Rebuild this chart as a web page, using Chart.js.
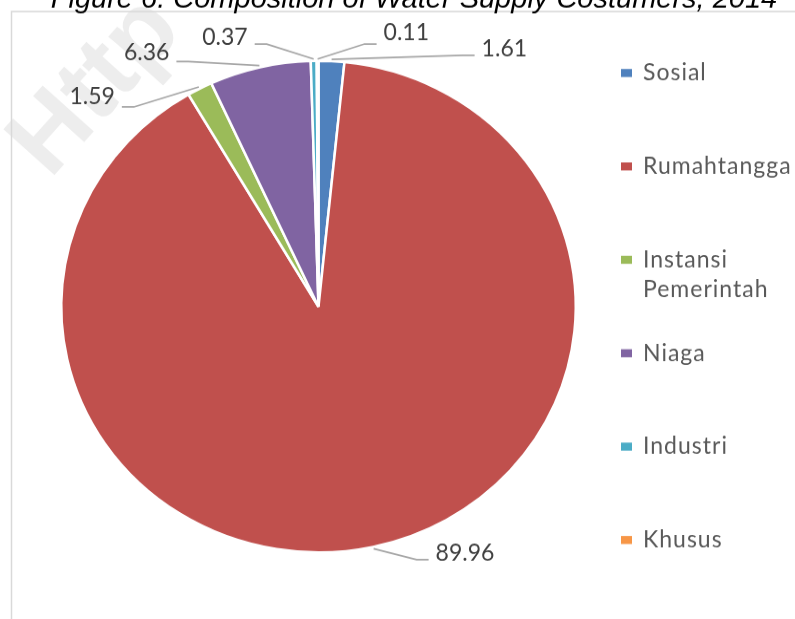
<!DOCTYPE html>
<html>
<head>
<meta charset="utf-8">
<title>Composition of Water Supply Costumers, 2014</title>
<script src="https://cdn.jsdelivr.net/npm/chart.js@4"></script>
<style>
    html, body { margin: 0; padding: 0; background: #ffffff; overflow: hidden; }
</style>
</head>
<body>
<canvas id="pieChart" width="795" height="648" style="display:block;width:795px;height:619px;"></canvas>
<script>
// Chart data
const categories = ['Sosial', 'Rumahtangga', 'Instansi Pemerintah', 'Niaga', 'Industri', 'Khusus'];
const shares = [1.61, 89.96, 1.59, 6.36, 0.37, 0.11];
const sliceColors = ['#4F81BD', '#C0504D', '#9BBB59', '#8064A2', '#4BACC6', '#F79646'];
const chartTitle = 'Figure 6. Composition of Water Supply Costumers, 2014';

// The original picture is squashed vertically, so the canvas is drawn taller and shrunk by CSS
const SQUASH = 619 / 648;

// Where each value label sits, relative to the edge of its slice (screen px)
const labelLayout = [
    { dx: 143, dy: -4, side: 'right', ty: -6 },
    { dx: 55, dy: 11, side: 'right', ty: -6 },
    { dx: -77, dy: 20, side: 'left', ty: -10 },
    { dx: -83, dy: -4, side: 'left', ty: -9 },
    { dx: -59, dy: -15, side: 'left', ty: -7 },
    { dx: 59, dy: -15, side: 'right', ty: -11 }
];

// Background, frame, watermark and title
const backdropPlugin = {
    id: 'backdrop',
    beforeDraw(chart) {
        const ctx = chart.ctx;
        ctx.save();
        ctx.fillStyle = '#ffffff';
        ctx.fillRect(0, 0, chart.width, chart.height);
        ctx.scale(1, 1 / SQUASH);

        // faint watermark
        ctx.save();
        ctx.translate(50, 180);
        ctx.rotate(-48 * Math.PI / 180);
        ctx.font = 'bold 100px "Liberation Sans", Arial, sans-serif';
        ctx.fillStyle = 'rgba(0, 0, 0, 0.07)';
        ctx.fillText('Http', 0, 0);
        ctx.restore();

        // chart frame
        ctx.strokeStyle = '#d9d9d9';
        ctx.lineWidth = 1.5;
        ctx.strokeRect(11.5, 11.5, 900, 700);

        // title, mostly cut off at the top
        ctx.font = 'italic 29px "Liberation Sans", Arial, sans-serif';
        ctx.fillStyle = '#000000';
        ctx.textAlign = 'center';
        ctx.textBaseline = 'alphabetic';
        ctx.fillText(chartTitle, 414, 8);
        ctx.restore();
    }
};

// Value labels with leader lines, and the legend
const labelsPlugin = {
    id: 'pieLabels',
    afterDraw(chart) {
        const ctx = chart.ctx;
        const meta = chart.getDatasetMeta(0);
        ctx.save();
        ctx.scale(1, 1 / SQUASH);

        meta.data.forEach((arc, i) => {
            const p = arc.getProps(['x', 'y', 'startAngle', 'endAngle', 'outerRadius'], true);
            const mid = (p.startAngle + p.endAngle) / 2;
            const ax = p.x + (p.outerRadius + 2) * Math.cos(mid);
            const ay = (p.y + (p.outerRadius + 2) * Math.sin(mid)) * SQUASH;
            const lay = labelLayout[i];
            const ex = ax + lay.dx;
            const ey = ay + lay.dy;
            const stub = lay.side === 'right' ? -12 : 12;

            ctx.strokeStyle = '#a6a6a6';
            ctx.lineWidth = 1.6;
            ctx.beginPath();
            ctx.moveTo(ax, ay);
            ctx.lineTo(ex + stub, ey);
            ctx.lineTo(ex, ey);
            ctx.stroke();

            ctx.font = '23px Lato, "Open Sans", sans-serif';
            ctx.fillStyle = '#404040';
            ctx.textBaseline = 'middle';
            ctx.textAlign = lay.side === 'right' ? 'left' : 'right';
            const tx = lay.side === 'right' ? ex + 7 : ex - 7;
            ctx.fillText(shares[i].toFixed(2), tx, ey + lay.ty);
        });

        // legend
        const legendX = 621;
        const legendTop = 73;
        const legendStep = 93.4;
        ctx.font = '23px Lato, "Open Sans", sans-serif';
        ctx.letterSpacing = '1px';
        ctx.textAlign = 'left';
        ctx.textBaseline = 'middle';
        categories.forEach((name, i) => {
            const cy = legendTop + i * legendStep;
            ctx.fillStyle = sliceColors[i];
            ctx.fillRect(legendX, cy - 4, 11, 8);

            // wrap long names onto a second line
            const words = name.split(' ');
            const lines = [];
            let line = '';
            words.forEach(w => {
                const test = line ? line + ' ' + w : w;
                if (line && ctx.measureText(test).width > 150) {
                    lines.push(line);
                    line = w;
                } else {
                    line = test;
                }
            });
            lines.push(line);

            ctx.fillStyle = '#595959';
            lines.forEach((l, j) => {
                ctx.fillText(l, legendX + 22, cy + j * 30);
            });
        });
        ctx.restore();
    }
};

const ctx = document.getElementById('pieChart').getContext('2d');
const pieChart = new Chart(ctx, {
    type: 'pie',
    data: {
        labels: categories,
        datasets: [{
            data: shares,
            backgroundColor: sliceColors,
            borderColor: '#ffffff',
            borderWidth: 2.5
        }]
    },
    options: {
        responsive: false,
        animation: false,
        devicePixelRatio: 1,
        layout: {
            padding: { left: 60, right: 218, top: 62, bottom: 68 }
        },
        plugins: {
            legend: { display: false },
            tooltip: { enabled: false },
            title: { display: false }
        }
    },
    plugins: [backdropPlugin, labelsPlugin]
});
</script>
</body>
</html>
